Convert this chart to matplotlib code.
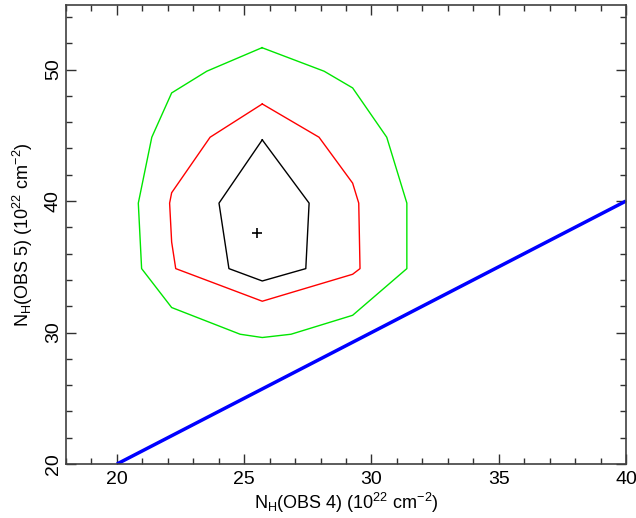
import numpy as np
import matplotlib
matplotlib.use('Agg')
import matplotlib.pyplot as plt
from matplotlib.ticker import MultipleLocator

plt.rcParams['font.family'] = ['Liberation Sans', 'DejaVu Sans']
plt.rcParams['mathtext.fontset'] = 'custom'
plt.rcParams['mathtext.rm'] = 'Liberation Sans'
plt.rcParams['mathtext.it'] = 'Liberation Sans:italic'

# contour levels (x = NH obs 4, y = NH obs 5)
green_x = [25.70, 28.14, 29.26, 30.60, 31.39, 31.39, 29.26, 26.84, 25.71, 24.84, 22.15, 20.97, 20.84, 21.37, 22.15, 23.53, 25.70]
green_y = [51.66, 49.87, 48.60, 44.85, 39.84, 34.86, 31.31, 29.87, 29.62, 29.87, 31.90, 34.86, 39.84, 44.85, 48.22, 49.87, 51.66]

red_x = [25.71, 27.94, 29.26, 29.50, 29.55, 29.26, 25.71, 22.31, 22.15, 22.07, 22.15, 23.66, 25.71]
red_y = [47.38, 44.85, 41.36, 39.84, 34.86, 34.43, 32.38, 34.86, 36.88, 39.84, 40.63, 44.85, 47.38]

black_x = [25.71, 27.55, 27.42, 25.71, 24.40, 24.01, 25.71]
black_y = [44.65, 39.84, 34.86, 33.92, 34.86, 39.84, 44.65]

best_x = [25.50]
best_y = [37.59]

equal_x = [20, 40]
equal_y = [20, 40]

fig = plt.figure(figsize=(6.36, 5.18), dpi=100)
ax = fig.add_axes([0.1038, 0.1042, 0.8805, 0.886])

ax.plot(green_x, green_y, color='#00e600', lw=1)
ax.plot(red_x, red_y, color='red', lw=1)
ax.plot(black_x, black_y, color='black', lw=1)
ax.plot(best_x, best_y, marker='+', color='black', ms=7, mew=1.2, ls='none')
ax.plot(equal_x, equal_y, color='blue', lw=2.5, solid_capstyle='butt')

ax.set_xlim(18, 40)
ax.set_ylim(20, 54.9)
ax.xaxis.set_major_locator(MultipleLocator(5))
ax.xaxis.set_minor_locator(MultipleLocator(1))
ax.yaxis.set_major_locator(MultipleLocator(10))
ax.yaxis.set_minor_locator(MultipleLocator(2))
for s in ax.spines.values():
    s.set_color('#404040')
    s.set_linewidth(1.2)
ax.tick_params(which='both', direction='in', top=True, right=True,
               labelsize=14, color='#303030')
ax.tick_params(which='major', length=7, width=1)
ax.tick_params(which='minor', length=4.5, width=1)
ax.tick_params(axis='x', pad=5)
ax.tick_params(axis='y', pad=3)
for lab in ax.get_yticklabels():
    lab.set_rotation(90)
    lab.set_va('center')

ax.set_xlabel(r'N$_{\rm H}$(OBS 4) (10$^{22}$ cm$^{-2}$)', fontsize=13, labelpad=2)
ax.set_ylabel(r'N$_{\rm H}$(OBS 5) (10$^{22}$ cm$^{-2}$)', fontsize=13, labelpad=7)

fig.savefig('out.png', dpi=100)
